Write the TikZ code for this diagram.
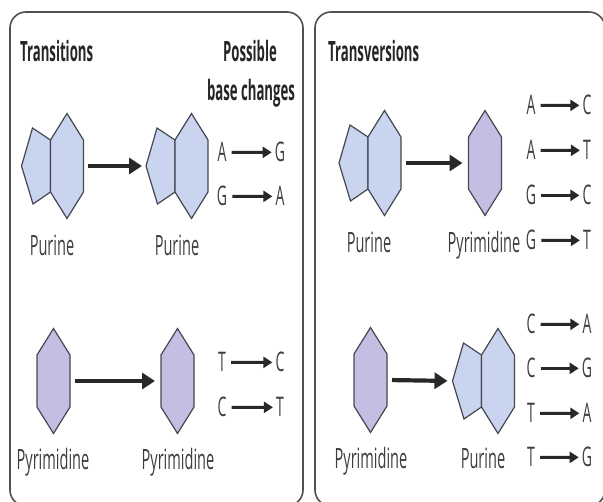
\documentclass[tikz,border=0pt]{standalone}
\usepackage{fontspec}
\usetikzlibrary{arrows.meta}
% narrow sans for all text
\newfontfamily\molfont{Open Sans}[FakeStretch=0.52]
\newfontfamily\headfont{Open Sans}[FakeStretch=0.47]
\definecolor{purinefill}{RGB}{201,212,238}
\definecolor{pyrfill}{RGB}{197,190,226}
\definecolor{ringedge}{RGB}{70,70,82}
\definecolor{panelline}{RGB}{80,80,80}
\definecolor{ink}{RGB}{62,62,62}
\definecolor{headink}{RGB}{38,38,38}
\definecolor{arrowink}{RGB}{40,40,40}
\tikzset{
  ring/.style={draw=ringedge, line width=1.2pt, line join=miter},
  purinering/.style={ring, fill=purinefill},
  pyrring/.style={ring, fill=pyrfill},
  % six-membered ring, centred on the pic origin
  pics/pyrpic/.style={code={
    \path[pyrring] (0,-52.5) -- (16.5,-26) -- (16.5,26) -- (0,52.5)
      -- (-16.5,26) -- (-16.5,-26) -- cycle;
    \coordinate (-w) at (-16.5,0);
    \coordinate (-e) at (16.5,0);
  }},
  % five-membered ring fused to the left of a six-membered ring
  pics/purinepic/.style={code={
    \path[purinering] (-16.5,-26) -- (-34.5,-38) -- (-45.5,0) -- (-34,38)
      -- (-16.5,26) -- cycle;
    \path[purinering] (0,-52.5) -- (16.5,-26) -- (16.5,26) -- (0,52.5)
      -- (-16.5,26) -- (-16.5,-26) -- cycle;
    \coordinate (-w) at (-45.5,0);
    \coordinate (-e) at (16.5,0);
  }},
}
\begin{document}
\begin{tikzpicture}[x=1pt,y=-1pt,
  panel/.style={draw=panelline, line width=1.6pt, rounded corners=16pt},
  molname/.style={font=\molfont\fontsize{28}{30}\selectfont, text=ink, anchor=base, inner sep=0pt},
  heading/.style={font=\headfont\bfseries\fontsize{28}{30}\selectfont, text=headink, inner sep=0pt},
  letter/.style={font=\molfont\fontsize{27}{30}\selectfont, text=ink, anchor=base, inner sep=0pt},
  bigarrow/.style={draw=arrowink, line width=4.2pt, -{Triangle[length=13pt,width=16pt]}},
  smallarrow/.style={draw=arrowink, line width=3pt, -{Triangle[length=9pt,width=11pt]},
    shorten <=5pt, shorten >=3pt},
]
\useasboundingbox (0,0) rectangle (603,502);

% panels
\draw[panel] (10,12) rectangle (303,506);
\draw[panel] (315,12) rectangle (605,506);

% headings
\node[heading, anchor=base west] (trs) at (20,62) {Transitions};
\node[heading, anchor=base] (pos) at (250,62) {Possible};
\node[heading, anchor=base] (bch) at (251,101) {base changes};
\node[heading, anchor=base west] (trv) at (328,62) {Transversions};

% transitions: purine -> purine
\pic (pa) at (67,166) {purinepic};
\pic (pb) at (191.5,166) {purinepic};
\draw[bigarrow, shorten <=4.5pt, shorten >=4pt] (pa-e) -- (pb-w);
\node[molname] (npa) at (52,256) {Purine};
\node[molname] (npb) at (177,256) {Purine};

% transitions: pyrimidine -> pyrimidine
\pic (ya) at (53.5,381) {pyrpic};
\pic (yb) at (177.5,381) {pyrpic};
\draw[bigarrow, shorten <=5pt, shorten >=6pt] (ya-e) -- (yb-w);
\node[molname] (nya) at (53,470) {Pyrimidine};
\node[molname] (nyb) at (178,470) {Pyrimidine};

% transversions: purine -> pyrimidine
\pic (pc) at (384.5,163) {purinepic};
\pic (yc) at (485,163) {pyrpic};
\draw[bigarrow, shorten <=5pt, shorten >=6pt] (pc-e) -- (yc-w);
\node[molname] (npc) at (369,253) {Purine};
\node[molname] (nyc) at (484,253) {Pyrimidine};

% transversions: pyrimidine -> purine
\pic (yd) at (370.5,380) {pyrpic};
\pic (pd) at (498,381) {purinepic};
\draw[bigarrow, shorten <=5pt, shorten >=5pt] (yd-e) -- (pd-w);
\node[molname] (nyd) at (371,469) {Pyrimidine};
\node[molname] (npd) at (483,469) {Purine};

% base change lists
\foreach \s/\t/\r [count=\i] in {A/G/152, G/A/196, T/C/362, C/T/407} {
  \node[letter] (ls\i) at (222,\r+10) {\s};
  \node[letter] (lt\i) at (280,\r+10) {\t};
  \draw[smallarrow] (ls\i.east) -- (lt\i.west);
}
\foreach \s/\t/\r [count=\i] in {A/C/105, A/T/150, G/C/195, G/T/240,
                                  C/A/324, C/G/368, T/A/413, T/G/457} {
  \node[letter] (rs\i) at (531,\r+10) {\s};
  \node[letter] (rt\i) at (587,\r+10) {\t};
  \draw[smallarrow] (rs\i.east) -- (rt\i.west);
}
\end{tikzpicture}
\end{document}
